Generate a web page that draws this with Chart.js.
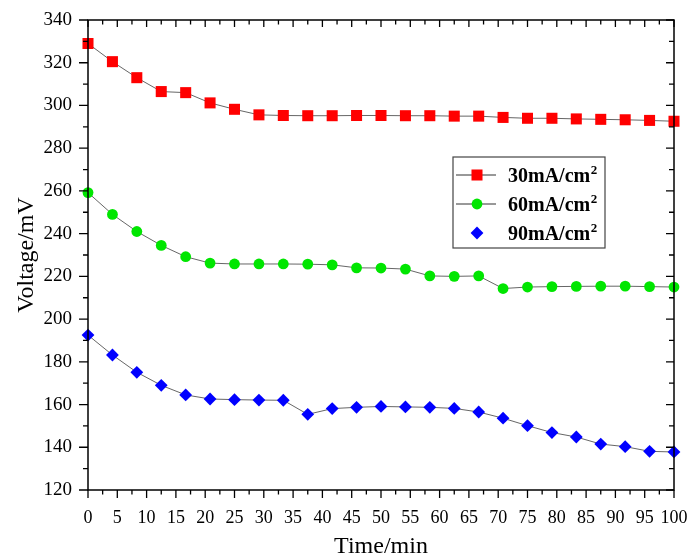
<!DOCTYPE html>
<html>
<head>
<meta charset="utf-8">
<script src="https://cdn.jsdelivr.net/npm/chart.js@4.4.0/dist/chart.umd.min.js"></script>
<style>
  html, body { margin: 0; padding: 0; background: #fff; }
  #wrap { width: 689px; height: 557px; position: relative; }
</style>
</head>
<body>
<div id="wrap"><canvas id="voltChart"></canvas></div>
<script>
// ---------- Data ----------
const timeMin = [0, 4.17, 8.33, 12.5, 16.67, 20.83, 25, 29.17, 33.33, 37.5, 41.67, 45.83,
  50, 54.17, 58.33, 62.5, 66.67, 70.83, 75, 79.17, 83.33, 87.5, 91.67, 95.83, 100];

const v30 = [329, 320.5, 313, 306.5, 306, 301.2, 298.2, 295.6, 295.3, 295.2, 295.2, 295.3,
  295.3, 295.2, 295.2, 295, 295, 294.4, 294, 294, 293.7, 293.5, 293.3, 293, 292.6];
const v60 = [259.2, 249, 241, 234.5, 229.2, 226.2, 225.8, 225.8, 225.8, 225.7, 225.4, 224,
  223.9, 223.4, 220.2, 220, 220.2, 214.3, 215, 215.2, 215.3, 215.4, 215.4, 215.2, 215];
const v90 = [192.5, 183.2, 175.1, 169, 164.5, 162.6, 162.3, 162.1, 162, 155.4, 158.1, 158.7,
  159.1, 158.9, 158.7, 158.2, 156.5, 153.6, 150.1, 146.9, 144.8, 141.5, 140.3, 138.1, 137.8];

const seriesNames = ["30mA/cm²", "60mA/cm²", "90mA/cm²"];
const seriesColors = ["#ff0000", "#00e600", "#0000ff"];

const xMin = 0, xMax = 100, xStep = 5;
const yMin = 120, yMax = 340, yStep = 20;

const serif = "'Liberation Serif', 'Times New Roman', serif";

function toXY(ys) {
  return ys.map((y, i) => ({ x: timeMin[i], y: y }));
}

// ---------- Frame, major/minor ticks (left/bottom outward, top/right inward) ----------
const framePlugin = {
  id: "frame",
  afterDraw(chart) {
    const { ctx, chartArea: a, scales } = chart;
    const xs = scales.x, ys = scales.y;
    ctx.save();
    ctx.strokeStyle = "#000";
    ctx.lineWidth = 1.5;
    ctx.strokeRect(a.left, a.top, a.right - a.left, a.bottom - a.top);

    ctx.lineWidth = 1.3;
    ctx.beginPath();
    for (let v = xMin; v <= xMax + 0.01; v += xStep / 2) {
      const major = Math.abs(v / xStep - Math.round(v / xStep)) < 1e-6;
      const px = xs.getPixelForValue(v);
      ctx.moveTo(px, a.bottom);
      ctx.lineTo(px, a.bottom + (major ? 8 : 4.5));
      ctx.moveTo(px, a.top);
      ctx.lineTo(px, a.top + (major ? 7 : 4.5));
    }
    for (let v = yMin; v <= yMax + 0.01; v += yStep / 2) {
      const major = Math.abs(v / yStep - Math.round(v / yStep)) < 1e-6;
      const py = ys.getPixelForValue(v);
      ctx.moveTo(a.left, py);
      ctx.lineTo(a.left - (major ? 9 : 5), py);
      ctx.moveTo(a.right, py);
      ctx.lineTo(a.right - (major ? 8 : 5), py);
    }
    ctx.stroke();
    ctx.restore();
  },
};

// ---------- Legend box inside the plot ----------
const legendPlugin = {
  id: "boxLegend",
  afterDraw(chart) {
    const { ctx } = chart;
    const box = { x: 453, y: 157, w: 152, h: 91 };
    ctx.save();
    ctx.fillStyle = "#fff";
    ctx.fillRect(box.x, box.y, box.w, box.h);
    ctx.strokeStyle = "#444";
    ctx.lineWidth = 1.2;
    ctx.strokeRect(box.x, box.y, box.w, box.h);

    chart.data.datasets.forEach((ds, i) => {
      const cy = box.y + 18 + i * 29;
      if (i < 2) {
        ctx.strokeStyle = "#333";
        ctx.lineWidth = 1;
        ctx.beginPath();
        ctx.moveTo(box.x + 3, cy);
        ctx.lineTo(box.x + 43, cy);
        ctx.stroke();
      }
      ctx.fillStyle = ds.pointBackgroundColor;
      Chart.helpers.drawPoint(ctx, {
        pointStyle: ds.pointStyle,
        radius: ds.pointRadius,
        borderWidth: 0,
        rotation: 0,
      }, box.x + 24, cy);

      // label: main part + raised "2"
      const main = ds.label.replace("²", "");
      ctx.fillStyle = "#000";
      ctx.textAlign = "left";
      ctx.textBaseline = "alphabetic";
      ctx.font = "bold 20px " + serif;
      const tx = box.x + 55, base = cy + 7;
      ctx.fillText(main, tx, base);
      const w = ctx.measureText(main).width;
      ctx.font = "bold 13px " + serif;
      ctx.fillText("2", tx + w + 0.5, base - 8);
    });
    ctx.restore();
  },
};

const ctx = document.getElementById("voltChart").getContext("2d");

const voltChart = new Chart(ctx, {
  type: "line",
  data: {
    datasets: [
      {
        label: seriesNames[0],
        data: toXY(v30),
        pointStyle: "rect",
        pointRadius: 7.8,
      },
      {
        label: seriesNames[1],
        data: toXY(v60),
        pointStyle: "circle",
        pointRadius: 5.4,
      },
      {
        label: seriesNames[2],
        data: toXY(v90),
        pointStyle: "rectRot",
        pointRadius: 6.4,
      },
    ].map((d, i) => Object.assign(d, {
      borderColor: "#555",
      borderWidth: 0.9,
      pointBackgroundColor: seriesColors[i],
      pointBorderColor: seriesColors[i],
      pointBorderWidth: 0,
      pointHoverRadius: d.pointRadius,
      tension: 0,
      clip: false,
    })),
  },
  options: {
    responsive: true,
    maintainAspectRatio: false,
    animation: false,
    layout: { padding: { top: 20, right: 15, left: 0, bottom: 0 } },
    plugins: {
      legend: { display: false },
      tooltip: { enabled: false },
    },
    scales: {
      x: {
        type: "linear",
        min: xMin,
        max: xMax,
        grid: { display: false, drawTicks: false },
        border: { display: false },
        ticks: {
          stepSize: xStep,
          color: "#000",
          padding: 17,
          maxRotation: 0,
          autoSkip: false,
          font: { family: serif, size: 18 },
        },
        title: {
          display: true,
          text: "Time/min",
          color: "#000",
          font: { family: serif, size: 24, lineHeight: 0.85 },
          padding: 0,
        },
        afterFit(scale) {
          scale.height = 67;
          scale.paddingLeft = 0;
          scale.paddingRight = 0;
        },
      },
      y: {
        type: "linear",
        min: yMin,
        max: yMax,
        grid: { display: false, drawTicks: false },
        border: { display: false },
        ticks: {
          stepSize: yStep,
          color: "#000",
          padding: 16,
          font: { family: serif, size: 19 },
        },
        title: {
          display: true,
          text: "Voltage/mV",
          color: "#000",
          font: { family: serif, size: 24, lineHeight: 0.85 },
          padding: { top: 17, bottom: 0 },
        },
        afterFit(scale) {
          scale.width = 88;
          scale.paddingTop = 0;
          scale.paddingBottom = 0;
        },
      },
    },
  },
  plugins: [framePlugin, legendPlugin],
});
</script>
</body>
</html>
